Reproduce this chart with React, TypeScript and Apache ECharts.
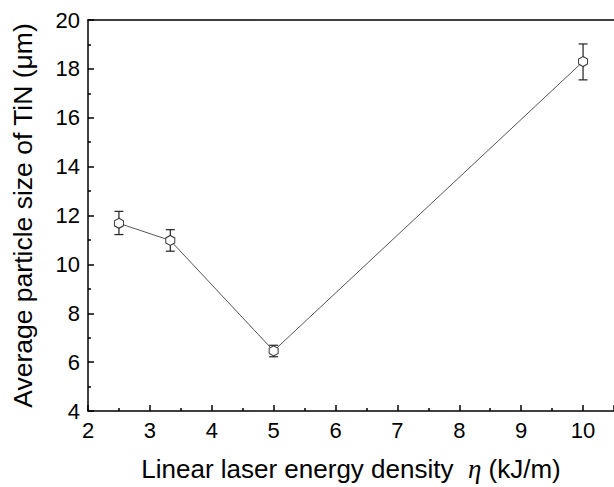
import React, { useEffect, useRef } from "react";
import * as echarts from "echarts";

const energyDensity = [2.5, 3.33, 5, 10];
const particleSize = [11.68, 10.98, 6.46, 18.3];
const errorLow = [11.22, 10.54, 6.22, 17.55];
const errorHigh = [12.17, 11.42, 6.69, 19.02];

const FONT = "Liberation Sans, Arial, sans-serif";
const hexagon = "path://M0,-1L0.866,-0.5L0.866,0.5L0,1L-0.866,0.5L-0.866,-0.5Z";

export default function App() {
  const ref = useRef<HTMLDivElement>(null);
  useEffect(() => {
    document.body.style.margin = "0";
    const chart = echarts.init(ref.current!, null, { renderer: "svg" });
    const lineData = energyDensity.map((x, i) => [x, particleSize[i]]);
    const errData = energyDensity.map((x, i) => [x, errorLow[i], errorHigh[i]]);
    chart.setOption({
      animation: false,
      backgroundColor: "#fff",
      grid: { left: 88, top: 20, right: 0, bottom: 74.5 },
      xAxis: [
        {
          type: "value",
          min: 2,
          max: 10.5,
          interval: 1,
          name: "Linear laser energy density  {i|η} (kJ/m)",
          nameLocation: "middle",
          nameGap: 44,
          nameTextStyle: {
            fontFamily: FONT,
            fontSize: 26,
            color: "#000",
            rich: {
              i: { fontFamily: "Liberation Serif, serif", fontStyle: "italic", fontSize: 27, color: "#000" },
            },
          },
          axisLine: { show: true, onZero: false, lineStyle: { color: "#000", width: 1.5 } },
          axisTick: { show: true, inside: true, length: 6, lineStyle: { color: "#000", width: 1.5 } },
          minorTick: { show: true, splitNumber: 2, length: 3, lineStyle: { color: "#000", width: 1.5 } },
          axisLabel: { margin: 8, fontFamily: FONT, fontSize: 22, color: "#000", showMaxLabel: false },
          splitLine: { show: false },
        },
        {
          type: "value",
          position: "top",
          min: 2,
          max: 10.5,
          axisLine: { show: true, lineStyle: { color: "#000", width: 1.5 } },
          axisTick: { show: false },
          axisLabel: { show: false },
          splitLine: { show: false },
        },
      ],
      yAxis: {
        type: "value",
        min: 4,
        max: 20,
        interval: 2,
        name: "Average particle size of TiN (μm)",
        nameLocation: "middle",
        nameGap: 52,
        nameTextStyle: { fontFamily: FONT, fontSize: 26.5, color: "#000" },
        axisLine: { show: true, lineStyle: { color: "#000", width: 1.5 } },
        axisTick: { show: true, inside: true, length: 6, lineStyle: { color: "#000", width: 1.5 } },
        minorTick: { show: true, splitNumber: 2, length: 3, lineStyle: { color: "#000", width: 1.5 } },
        axisLabel: { margin: 8, fontFamily: FONT, fontSize: 22, color: "#000" },
        splitLine: { show: false },
      },
      series: [
        {
          type: "custom",
          renderItem: (params: any, api: any) => {
            const x = api.value(0);
            const lo = api.coord([x, api.value(1)]);
            const hi = api.coord([x, api.value(2)]);
            const w = 4.5;
            const style = { stroke: "#222", lineWidth: 1.2 };
            return {
              type: "group",
              children: [
                { type: "line", shape: { x1: lo[0], y1: lo[1], x2: hi[0], y2: hi[1] }, style },
                { type: "line", shape: { x1: lo[0] - w, y1: lo[1], x2: lo[0] + w, y2: lo[1] }, style },
                { type: "line", shape: { x1: hi[0] - w, y1: hi[1], x2: hi[0] + w, y2: hi[1] }, style },
              ],
            };
          },
          encode: { x: 0, y: [1, 2] },
          data: errData,
          z: 1,
        },
        {
          type: "line",
          data: lineData,
          symbol: hexagon,
          symbolSize: [9, 10],
          showAllSymbol: true,
          lineStyle: { color: "#555", width: 1 },
          itemStyle: { color: "#fff", borderColor: "#333", borderWidth: 1 },
          z: 3,
        },
      ],
    });
    return () => chart.dispose();
  }, []);
  return <div ref={ref} style={{ width: 614, height: 487 }} />;
}
